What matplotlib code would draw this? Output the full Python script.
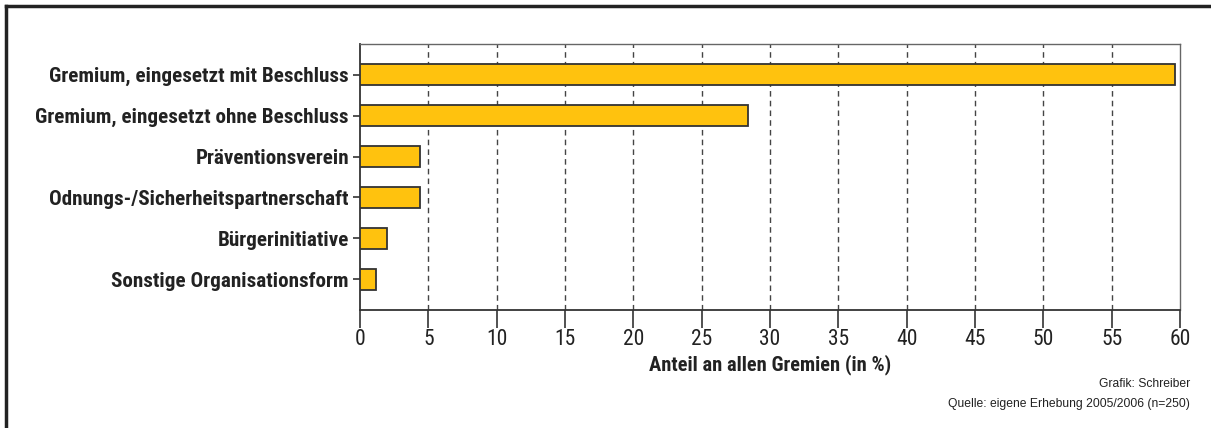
import matplotlib
matplotlib.use("Agg")
import matplotlib.pyplot as plt
from matplotlib.lines import Line2D
from matplotlib import font_manager

categories = [
    "Gremium, eingesetzt mit Beschluss",
    "Gremium, eingesetzt ohne Beschluss",
    "Präventionsverein",
    "Odnungs-/Sicherheitspartnerschaft",
    "Bürgerinitiative",
    "Sonstige Organisationsform",
]
values = [59.6, 28.4, 4.4, 4.4, 2.0, 1.2]
xticks = [0, 5, 10, 15, 20, 25, 30, 35, 40, 45, 50, 55, 60]
xlabel = "Anteil an allen Gremien (in %)"
credit = "Grafik: Schreiber"
source = "Quelle: eigene Erhebung 2005/2006 (n=250)"

# pick a narrow sans font (Arial Narrow look-alike) that has a static bold face
fonts = font_manager.fontManager.ttflist
candidates = ["Liberation Sans Narrow", "Nimbus Sans Narrow", "Roboto Condensed",
              "PT Sans Narrow", "Open Sans Condensed", "IBM Plex Sans Condensed",
              "Fira Sans Condensed", "DejaVu Sans"]
narrow = "DejaVu Sans"
for c in candidates:
    faces = [f for f in fonts if f.name == c and "[" not in f.fname]
    if any(f.weight in (700, "bold") for f in faces) and any(f.weight in (400, "normal", "regular") for f in faces):
        narrow = c
        break
stretch = "condensed" if narrow == "DejaVu Sans" else "normal"
plt.rcParams["font.family"] = [narrow, "DejaVu Sans"]
plt.rcParams["font.stretch"] = stretch

fig = plt.figure(figsize=(12.11, 4.28), dpi=100)
ax = fig.add_axes([360/1211, 1-310/428, 820/1211, 266/428])

ypos = list(range(len(categories)))
ax.barh(ypos, values, height=0.52, color="#FFC20E", edgecolor="#333333", linewidth=1.3, zorder=3)
ax.set_ylim(5.75, -0.75)
ax.set_xlim(0, 60)
ax.set_yticks(ypos)
ax.set_yticklabels(categories, fontsize=15.2, fontweight="bold", color="#222222")
ax.set_xticks(xticks)
ax.set_xticklabels([str(t) for t in xticks], fontsize=15.5, color="#222222")
ax.tick_params(axis="y", length=5, width=1.2, color="#333333", pad=3)
ax.tick_params(axis="x", length=13, width=1.2, color="#333333", pad=1)
for t in xticks[1:-1]:
    ax.axvline(t, color="#444444", linestyle=(0, (4, 3)), linewidth=1.0, zorder=1)
ax.set_xlabel(xlabel, fontsize=14.8, fontweight="bold", color="#222222", labelpad=3)

for s in ["left", "bottom"]:
    ax.spines[s].set_color("#333333")
    ax.spines[s].set_linewidth(1.3)
for s in ["top", "right"]:
    ax.spines[s].set_color("#666666")
    ax.spines[s].set_linewidth(1.0)

fig.text(1190/1211, 1-384/428, credit, ha="right", va="center", fontsize=8.7,
         family=["Liberation Sans", "DejaVu Sans"], color="#222222")
fig.text(1190/1211, 1-404/428, source, ha="right", va="center", fontsize=8.7,
         family=["Liberation Sans", "DejaVu Sans"], color="#222222")

# outer frame (top and left only)
fig.add_artist(Line2D([6/1211, 6/1211], [0, 1-6/428], transform=fig.transFigure, color="#222222", linewidth=2.5))
fig.add_artist(Line2D([6/1211, 1], [1-6/428, 1-6/428], transform=fig.transFigure, color="#222222", linewidth=2.5))

fig.savefig("out.png", dpi=100)
